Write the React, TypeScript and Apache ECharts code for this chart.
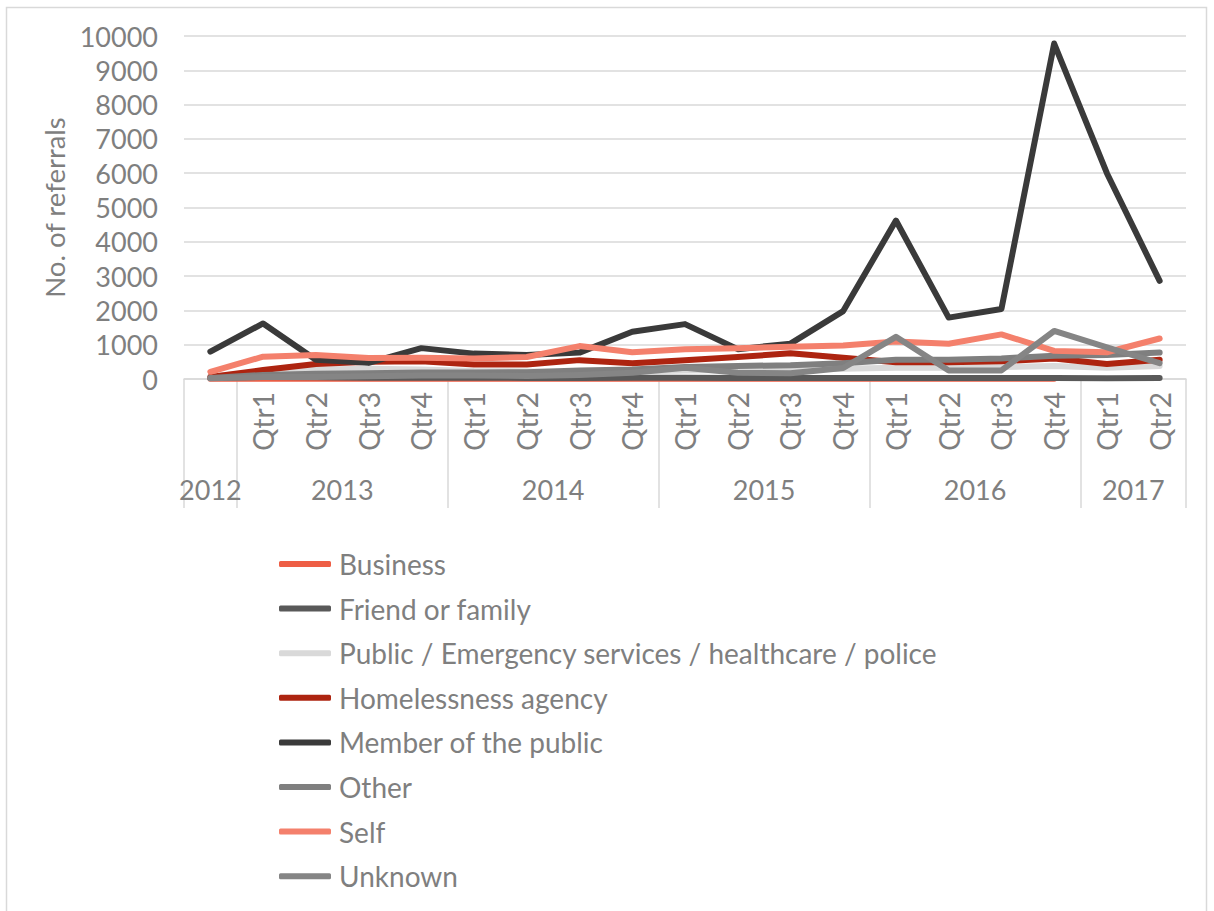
import React, { useEffect, useRef } from "react";
import * as echarts from "echarts";

const qtrLabels = ["", "Qtr1", "Qtr2", "Qtr3", "Qtr4", "Qtr1", "Qtr2", "Qtr3", "Qtr4", "Qtr1", "Qtr2", "Qtr3", "Qtr4", "Qtr1", "Qtr2", "Qtr3", "Qtr4", "Qtr1", "Qtr2"];
const yearLabels = ["2012", "2013", "2014", "2015", "2016", "2017"];
const yearSpans = [1, 4, 4, 4, 4, 2];
const yTicks = [0, 1000, 2000, 3000, 4000, 5000, 6000, 7000, 8000, 9000, 10000];

const business = [5, 10, 10, 10, 10, 10, 10, 10, 10, 10, 10, 10, 10, 10, 10, 5, 5, null, null];
const friendOrFamily = [30, 60, 50, 40, 40, 40, 30, 30, 40, 40, 30, 30, 30, 30, 30, 30, 30, 20, 30];
const publicServices = [80, 200, 280, 300, 280, 230, 220, 200, 220, 250, 260, 280, 300, 330, 330, 350, 380, 330, 380];
const homelessnessAgency = [60, 260, 440, 500, 520, 420, 420, 550, 460, 550, 640, 750, 620, 490, 490, 520, 600, 440, 560];
const memberOfPublic = [800, 1620, 560, 470, 900, 740, 700, 770, 1380, 1600, 870, 1030, 1980, 4620, 1790, 2040, 9780, 6000, 2860];
const other = [30, 120, 150, 170, 190, 190, 200, 250, 280, 350, 380, 400, 460, 560, 560, 600, 680, 700, 770];
const self = [210, 650, 700, 610, 620, 600, 640, 960, 780, 870, 900, 940, 980, 1090, 1030, 1300, 820, 780, 1180];
const unknown = [20, 60, 60, 80, 100, 100, 90, 120, 180, 330, 180, 170, 320, 1230, 250, 250, 1400, 920, 460];

const seriesDefs = [
  { name: "Business", data: business, color: "#ee5e45" },
  { name: "Friend or family", data: friendOrFamily, color: "#595959" },
  { name: "Public / Emergency services / healthcare / police", data: publicServices, color: "#d9d9d9" },
  { name: "Homelessness agency", data: homelessnessAgency, color: "#ad2410" },
  { name: "Member of the public", data: memberOfPublic, color: "#3a3a3a" },
  { name: "Other", data: other, color: "#7f7f7f" },
  { name: "Self", data: self, color: "#f4806c" },
  { name: "Unknown", data: unknown, color: "#858585" },
];

const FONT = "Lato, 'Noto Sans', sans-serif";
const TEXT = "#7f7f7f";

export default function App() {
  const ref = useRef<HTMLDivElement>(null);
  useEffect(() => {
    if (!ref.current) return;
    const chart = echarts.init(ref.current, null, { renderer: "svg" });
    const bounds: number[] = [0];
    yearSpans.forEach((s) => bounds.push(bounds[bounds.length - 1] + s));
    const centers = yearSpans.map((s, i) => bounds[i] + s / 2);
    chart.setOption({
      animation: false,
      textStyle: { fontFamily: FONT },
      graphic: [
        {
          type: "rect",
          shape: { x: 6.5, y: 7.5, width: 1200, height: 1000 },
          style: { fill: "none", stroke: "#d9d9d9", lineWidth: 1.5 },
          silent: true,
        },
      ],
      grid: { left: 184, right: 28, top: 36, bottom: 532, containLabel: false },
      legend: {
        orient: "vertical",
        left: 274,
        top: 545,
        icon: "roundRect",
        itemWidth: 52,
        itemHeight: 6,
        itemGap: 16.6,
        textStyle: { color: TEXT, fontSize: 28, fontFamily: FONT, lineHeight: 28, padding: [0, 0, 0, 3] },
        data: seriesDefs.map((s) => s.name),
      },
      xAxis: [
        {
          type: "category",
          data: qtrLabels,
          boundaryGap: true,
          axisLine: { show: true, lineStyle: { color: "#d9d9d9", width: 1.5 } },
          axisTick: { show: false },
          axisLabel: { rotate: 90, color: TEXT, fontSize: 28, margin: 13, fontFamily: FONT, interval: 0 },
          splitLine: { show: false },
        },
        {
          type: "value",
          min: 0,
          max: qtrLabels.length,
          position: "bottom",
          axisLine: { show: false },
          splitLine: { show: false },
          axisTick: {
            show: true,
            customValues: bounds,
            length: 129,
            lineStyle: { color: "#d9d9d9", width: 1.5 },
          },
          axisLabel: {
            show: true,
            customValues: centers,
            margin: 97,
            color: TEXT,
            fontSize: 27,
            fontFamily: FONT,
            formatter: (v: number) => {
              const idx = centers.findIndex((c) => Math.abs(c - v) < 1e-6);
              return idx >= 0 ? yearLabels[idx] : "";
            },
          },
        },
      ],
      yAxis: {
        type: "value",
        min: yTicks[0],
        max: yTicks[yTicks.length - 1],
        interval: yTicks[1] - yTicks[0],
        name: "No. of referrals",
        nameLocation: "middle",
        nameGap: 110,
        nameTextStyle: { color: TEXT, fontSize: 27.5, fontFamily: FONT },
        axisLine: { show: false },
        axisTick: { show: false },
        axisLabel: { color: TEXT, fontSize: 27, margin: 26, fontFamily: FONT, formatter: (v: number) => String(v) },
        splitLine: { lineStyle: { color: "#d9d9d9", width: 1.5 } },
      },
      series: seriesDefs.map((s) => ({
        name: s.name,
        type: "line",
        data: s.data,
        xAxisIndex: 0,
        symbol: "none",
        color: s.color,
        lineStyle: { color: s.color, width: 6, cap: "round", join: "round" },
        itemStyle: { color: s.color },
        connectNulls: false,
      })),
    });
    return () => chart.dispose();
  }, []);
  return <div ref={ref} style={{ position: "absolute", left: 0, top: 0, width: 1214, height: 911 }} />;
}
